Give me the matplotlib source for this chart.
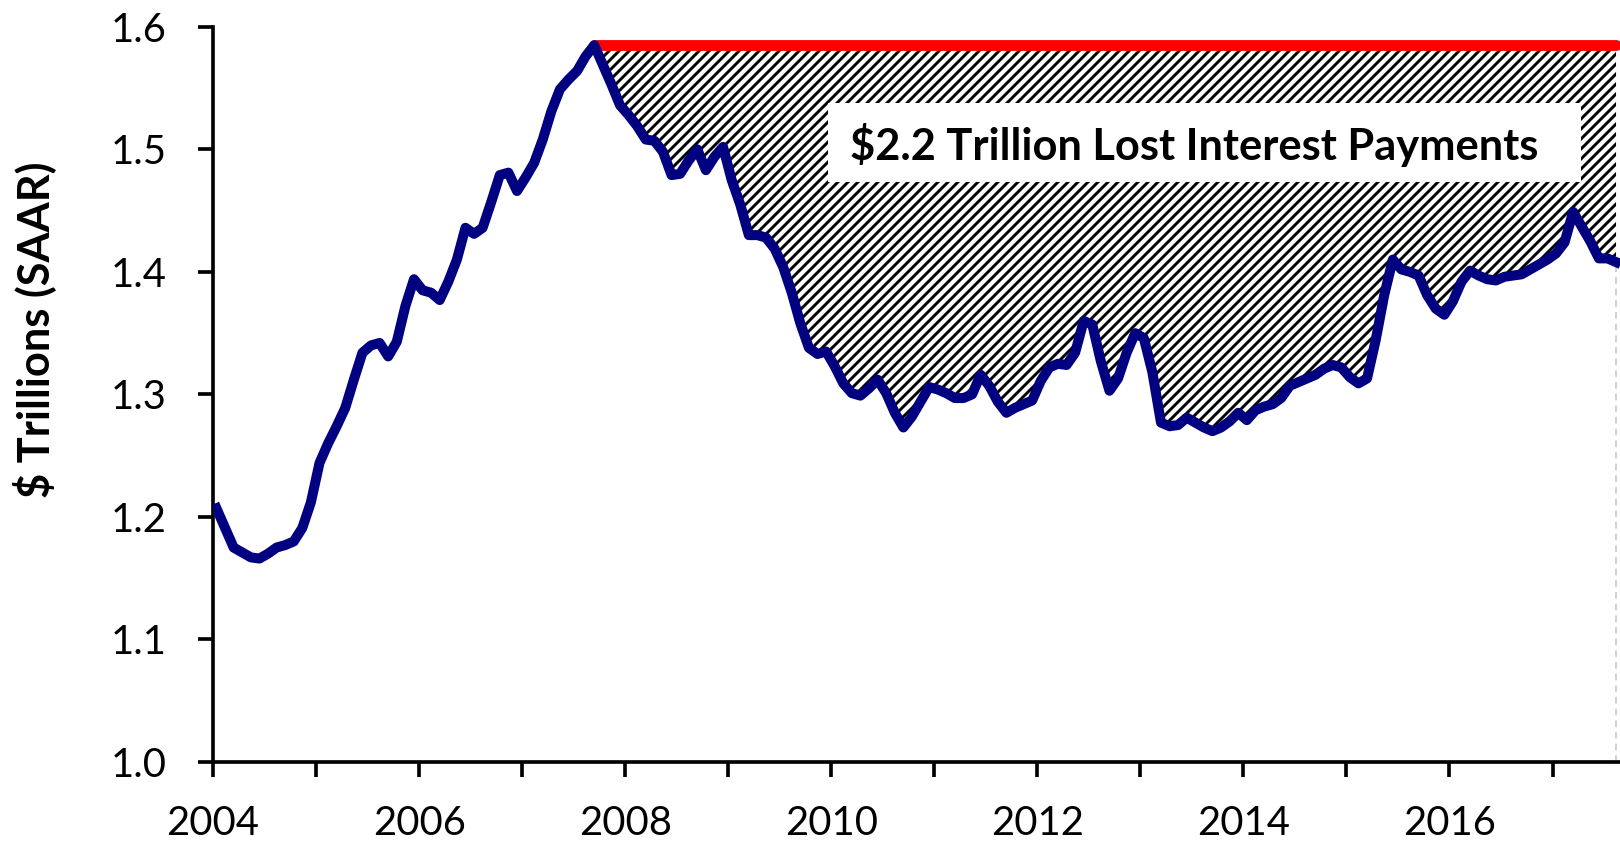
import numpy as np
import matplotlib
matplotlib.use('Agg')
import matplotlib.pyplot as plt
from matplotlib.patches import Rectangle
from matplotlib.collections import LineCollection
from matplotlib.transforms import IdentityTransform

plt.rcParams['font.family'] = ['Lato', 'DejaVu Sans']

# Personal interest income, $ trillions SAAR, monthly from Jan 2004
start_year = 2004
interest = [
    1.207, 1.191, 1.175, 1.171, 1.167, 1.166, 1.170, 1.175, 1.177, 1.180, 1.191, 1.212,  # 2004
    1.244, 1.260, 1.274, 1.289, 1.312, 1.334, 1.340, 1.342, 1.331, 1.343, 1.372, 1.394,  # 2005
    1.385, 1.383, 1.377, 1.392, 1.410, 1.436, 1.431, 1.436, 1.457, 1.479, 1.481, 1.466,  # 2006
    1.477, 1.489, 1.508, 1.531, 1.549, 1.557, 1.564, 1.576, 1.585, 1.569, 1.553, 1.536,  # 2007
    1.528, 1.519, 1.508, 1.507, 1.498, 1.479, 1.480, 1.491, 1.500, 1.483, 1.494, 1.502,  # 2008
    1.475, 1.455, 1.430, 1.430, 1.428, 1.419, 1.404, 1.383, 1.358, 1.338, 1.333, 1.335,  # 2009
    1.323, 1.309, 1.301, 1.299, 1.305, 1.312, 1.301, 1.285, 1.273, 1.282, 1.294, 1.306,  # 2010
    1.304, 1.301, 1.297, 1.297, 1.300, 1.316, 1.307, 1.294, 1.285, 1.289, 1.292, 1.295,  # 2011
    1.311, 1.322, 1.325, 1.324, 1.334, 1.360, 1.357, 1.327, 1.303, 1.313, 1.334, 1.350,  # 2012
    1.346, 1.318, 1.277, 1.274, 1.275, 1.281, 1.277, 1.273, 1.270, 1.273, 1.278, 1.285,  # 2013
    1.279, 1.287, 1.290, 1.292, 1.297, 1.307, 1.310, 1.313, 1.316, 1.321, 1.324, 1.322,  # 2014
    1.314, 1.309, 1.313, 1.344, 1.381, 1.410, 1.402, 1.400, 1.397, 1.381, 1.370, 1.365,  # 2015
    1.376, 1.392, 1.401, 1.397, 1.394, 1.393, 1.396, 1.397, 1.398, 1.402, 1.406, 1.410,  # 2016
    1.415, 1.424, 1.449, 1.437, 1.425, 1.411, 1.411, 1.408,                              # 2017
]
label_text = '$2.2 Trillion Lost Interest Payments'
ylabel = '$ Trillions (SAAR)'

interest = np.array(interest)
dates = start_year + (np.arange(len(interest)) + 0.4) / 12  # mid-month positions
peak_idx = int(np.argmax(interest))
peak_val = interest[peak_idx]

W, H = 1620, 844
fig = plt.figure(figsize=(W / 120, H / 120), dpi=120)
ax = fig.add_axes([0.1315, 0.0972, 0.8685, 0.871])

ax.set_xlim(2004, 2017.655)
ax.set_ylim(1.0, 1.6)

# gap below the pre-crisis peak, hatched with diagonal strokes clipped to the area
gap = ax.fill_between(dates[peak_idx:], interest[peak_idx:], peak_val,
                      facecolor='white', edgecolor='none', linewidth=0, zorder=1)
step = 10  # px between stripes, horizontally
segs = [[(x0, 0), (x0 + H, H)] for x0 in np.arange(-H, W + step, step)]
hatch = LineCollection(segs, colors='black', linewidths=1.75, transform=IdentityTransform(), zorder=1.5)
ax.add_collection(hatch, autolim=False)
hatch.set_clip_path(gap.get_paths()[0], ax.transData)

ax.plot(dates[peak_idx:], np.full(len(dates) - peak_idx, peak_val), color='#ff0000',
        lw=6.5, solid_capstyle='round', zorder=3, clip_on=False)
ax.plot(dates, interest, color='#000080', lw=6, solid_joinstyle='round', zorder=4)
ax.vlines(dates[-1], 1.0, interest[-1], colors='#c8c8c8', linestyles=(0, (4, 3)), lw=1, zorder=2)

# white box behind annotation
ax.add_patch(Rectangle((0.437, 0.789), 0.5353, 0.1076, transform=ax.transAxes,
                       facecolor='white', edgecolor='none', zorder=5))
ax.text(0.697, 0.8395, label_text, transform=ax.transAxes, ha='center', va='center',
        fontsize=26, fontweight='bold', zorder=6)

ax.set_xticks(np.arange(2004, 2018, 2))
ax.set_xticks(np.arange(2005, 2018, 2), minor=True)
ax.set_yticks(np.arange(1.0, 1.61, 0.1))
ax.set_yticklabels([f'{v:.1f}' for v in np.arange(1.0, 1.61, 0.1)])

for side in ['top', 'right']:
    ax.spines[side].set_visible(False)
for side in ['left', 'bottom']:
    ax.spines[side].set_linewidth(2.2)
ax.tick_params(axis='both', which='both', direction='out', length=9, width=2.2, labelsize=24)
ax.tick_params(axis='x', which='both', pad=17)
ax.tick_params(axis='y', pad=19)

fig.text(34 / W, 1 - 330 / H, ylabel, rotation=90, ha='center', va='center',
         fontsize=26, fontweight='bold')

fig.savefig('out.png', dpi=120)
